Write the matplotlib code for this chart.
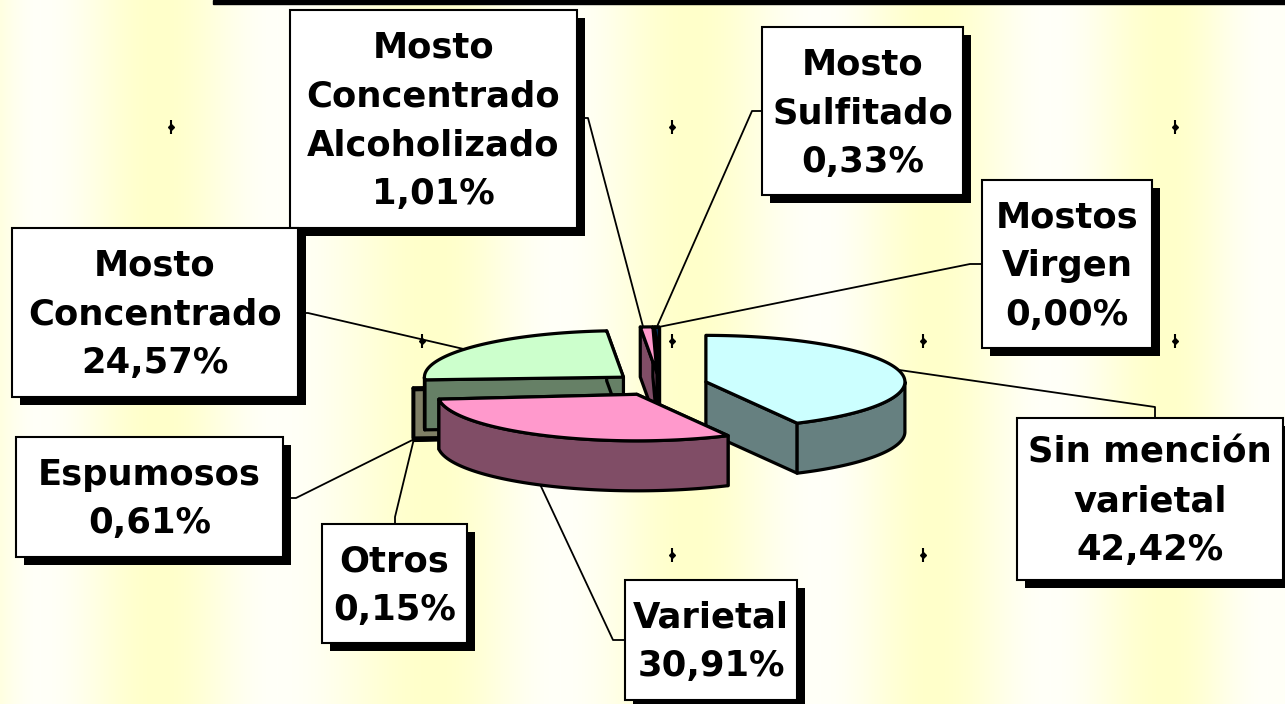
import numpy as np
import matplotlib
matplotlib.use('Agg')
import matplotlib.pyplot as plt
from matplotlib.patches import Polygon, Rectangle

# ---- data ----
names = ['Sin mención\nvarietal', 'Varietal', 'Otros', 'Espumosos', 'Mosto\nConcentrado',
         'Mosto\nConcentrado\nAlcoholizado', 'Mosto\nSulfitado', 'Mostos\nVirgen']
shares = [42.42, 30.91, 0.15, 0.61, 24.57, 1.01, 0.33, 0.00]
colors = ['#CCFFFF', '#FF99CC', '#FFFFCC', '#FFFFCC', '#CCFFCC', '#FF99CC', '#0066CC', '#FFFFFF']

# label boxes (x0, y0, x1, y1) in pixels, leader start on box and elbow
boxes = [(1017, 418, 1283, 580), (625, 580, 797, 700), (322, 524, 467, 643), (16, 437, 283, 557),
         (12, 228, 298, 397), (290, 10, 577, 228), (762, 27, 963, 195), (982, 180, 1152, 348)]
box_pt = [(1155, 418), (625, 640), (395, 524), (283, 498), (298, 313), (577, 118), (762, 111), (982, 264)]
elbow = [(1155, 407), (613, 640), (395, 517), (296, 498), (308, 313), (588, 118), (752, 111), (970, 264)]
# where the leader touches the slice: angle on rim (deg clockwise from 12) and level (0 top, 1 bottom)
anchor_ang = [75, 209, 265, 265, 307, 356, 359.4, 360]
anchor_lvl = [0, 1, 1, 1, 0, 0, 0, 0]
draw_order = [2, 3, 4, 0, 6, 5, 1]

# ---- pie geometry ----
W, H = 1285, 704
cx, cy = 659.5, 384.5
ra, rb = 199.0, 46.5
depth = 50.0
explode = 0.24

bounds = np.concatenate([[0], np.cumsum(shares)]) / np.sum(shares) * 360.0


def apex(i):
    mid = np.radians((bounds[i] + bounds[i + 1]) / 2)
    return cx + explode * ra * np.sin(mid), cy - explode * rb * np.cos(mid)


def rim(i, th, z):
    ax0, ay0 = apex(i)
    t = np.radians(th)
    return ax0 + ra * np.sin(t), ay0 - rb * np.cos(t) + z * depth


def darker(c, f=0.5):
    rgb = matplotlib.colors.to_rgb(c)
    return tuple(v * f for v in rgb)


fig = plt.figure(figsize=(W / 100, H / 100), dpi=100)
ax = fig.add_axes([0, 0, 1, 1])
ax.set_xlim(0, W)
ax.set_ylim(H, 0)
ax.axis('off')

# background: soft vertical yellow bands
bg_x = [0, 40, 158, 277, 435, 560, 690, 820, 933, 1050, 1167, 1267, 1285]
bg_t = [0.5, 0.0, 1.0, 0.0, 1.0, 0.0, 1.0, 0.0, 1.0, 0.0, 1.0, 0.0, 0.1]
xs = np.arange(W)
t = np.interp(xs, bg_x, bg_t)
t = 0.5 - 0.5 * np.cos(np.pi * t)
white = np.array([255, 255, 248]) / 255
yellow = np.array([255, 255, 202]) / 255
row = white[None, :] * (1 - t[:, None]) + yellow[None, :] * t[:, None]
ax.imshow(np.repeat(row[None, :, :], 2, axis=0), extent=(0, W, H, 0), aspect='auto', zorder=0)

# top rule
ax.add_patch(Rectangle((213, 0), W - 213, 4, color='black', zorder=1))

# sparkle marks
sparkle_x = [171, 422, 672, 923, 1175]
sparkle_y = [127, 341, 555]
gx, gy = np.meshgrid(sparkle_x, sparkle_y)
ax.plot(gx.ravel(), gy.ravel(), ls='none', marker='|', ms=10.5, mew=1.5, color='black', zorder=1)
ax.plot(gx.ravel(), gy.ravel(), ls='none', marker='D', ms=3, color='black', zorder=1)

lw = 2.3
z = 5
for i in draw_order:
    t1, t2 = bounds[i], bounds[i + 1]
    if t2 - t1 <= 0:
        continue
    axp, ayp = apex(i)
    side = darker(colors[i])
    # radial faces
    for th in (t1, t2):
        p0 = rim(i, th, 0)
        p1 = rim(i, th, 1)
        ax.add_patch(Polygon([(axp, ayp), p0, p1, (axp, ayp + depth)], closed=True,
                             fc=side, ec='black', lw=lw, joinstyle='round', zorder=z))
        z += 0.01
    # outer curved face (front half only)
    o1, o2 = max(t1, 90), min(t2, 270)
    if o2 > o1:
        ths = np.linspace(o1, o2, 80)
        top = [rim(i, th, 0) for th in ths]
        bot = [rim(i, th, 1) for th in ths[::-1]]
        ax.add_patch(Polygon(top + bot, closed=True, fc=side, ec='black', lw=lw,
                             joinstyle='round', zorder=z))
        z += 0.01
    # top face
    ths = np.linspace(t1, t2, max(3, int((t2 - t1) * 2)))
    pts = [(axp, ayp)] + [rim(i, th, 0) for th in ths]
    ax.add_patch(Polygon(pts, closed=True, fc=colors[i], ec='black', lw=lw,
                         joinstyle='round', zorder=z))
    z += 0.01

# leaders
for i in range(len(names)):
    end = rim(i, anchor_ang[i], anchor_lvl[i]) if shares[i] > 0 else \
        (apex(i)[0], apex(i)[1] - rb)
    px = [box_pt[i][0], elbow[i][0], end[0]]
    py = [box_pt[i][1], elbow[i][1], end[1]]
    ax.plot(px, py, color='black', lw=1.3, zorder=8)

# label boxes
box_z = {4: 11}
for i in range(len(names)):
    x0, y0, x1, y1 = boxes[i]
    zz = box_z.get(i, 10)
    ax.add_patch(Rectangle((x0 + 8, y0 + 8), x1 - x0, y1 - y0, fc='black', ec='none', zorder=zz))
    ax.add_patch(Rectangle((x0, y0), x1 - x0, y1 - y0, fc='white', ec='black', lw=1.5, zorder=zz + 0.1))
    pct = f'{shares[i]:.2f}'.replace('.', ',') + '%'
    ax.text((x0 + x1) / 2, (y0 + y1) / 2 + 2, names[i] + '\n' + pct, ha='center', va='center',
            fontsize=25.5, fontweight='bold', family='DejaVu Sans', linespacing=1.55,
            zorder=zz + 0.2)

fig.savefig('out.png', dpi=100)
